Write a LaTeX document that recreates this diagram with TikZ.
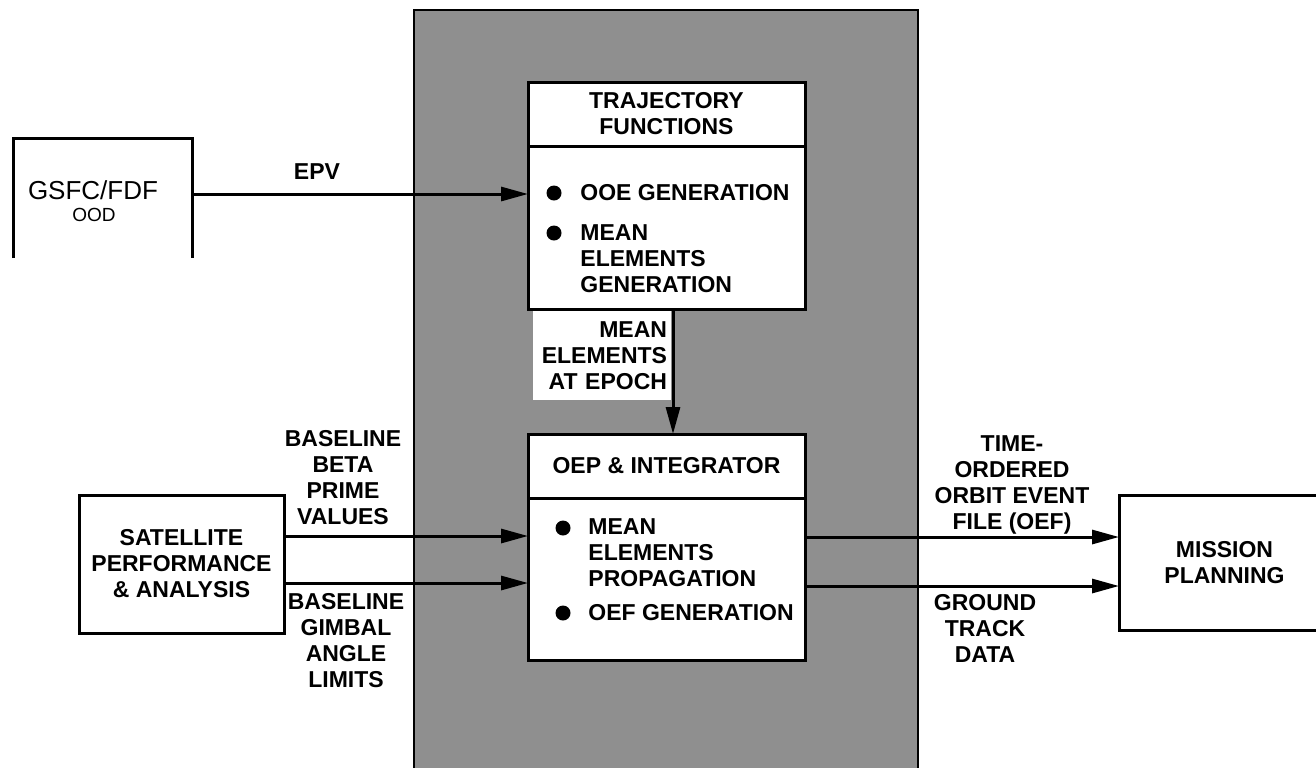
\documentclass[tikz,border=0pt]{standalone}
\usepackage{fontspec}
\setmainfont{Liberation Sans}
\usetikzlibrary{positioning, arrows.meta}

\newcommand{\labfont}{\bfseries\fontsize{11.5}{13}\selectfont}

\begin{document}
\begin{tikzpicture}[x=0.5pt, y=-0.5pt,
    box/.style={draw, line width=1.5pt, fill=white, inner sep=0pt, outer sep=0pt, align=center, font=\labfont},
    lbl/.style={font=\labfont, align=center, inner sep=0pt},
    item/.style={font=\labfont, align=left, inner sep=0pt, anchor=west},
    flow/.style={line width=1.5pt, -{Triangle[length=13.5pt, width=7pt]}}]
    \useasboundingbox (0,0) rectangle (1316,767);

    % shaded processing area
    \fill[black!44] (414,10) rectangle (918,770);
    \draw[line width=1pt] (414,770) -- (414,10) -- (918,10) -- (918,770);

    % trajectory functions
    \node[box, minimum width=138.5pt, minimum height=32pt] (trajhead) at (666.5,114) {TRAJECTORY\\FUNCTIONS};
    \node[box, minimum width=138.5pt, minimum height=81.5pt, below=0pt of trajhead] (trajbody) {};
    \fill (554,193) circle (3.75pt);
    \node[item] (ooegen) at (580,193) {OOE GENERATION};
    \fill (554,233) circle (3.75pt);
    \node[item] (meangen) at (580,259) {MEAN\\ELEMENTS\\GENERATION};

    % OEP & integrator
    \node[box, minimum width=138.5pt, minimum height=32pt] (oephead) at (666.5,466) {OEP \& INTEGRATOR};
    \node[box, minimum width=138.5pt, minimum height=81pt, below=0pt of oephead] (oepbody) {};
    \fill (563,528) circle (3.75pt);
    \node[item] (meanprop) at (588,553) {MEAN\\ELEMENTS\\PROPAGATION};
    \fill (563,613) circle (3.75pt);
    \node[item] (oefgen) at (588,613) {OEF GENERATION};

    % label on the mean elements flow
    \node[fill=white, inner ysep=0pt, inner xsep=2pt, text width=65pt, align=right,
          minimum height=44.5pt, font=\labfont] (epochlbl) at (602,355.5) {MEAN\\ELEMENTS\\AT EPOCH};

    % outside sources and users
    \node[minimum width=89.5pt, minimum height=60pt, inner sep=0pt, outer sep=0pt] (gsfc) at (102.5,198) {};
    \draw[line width=1.5pt] (gsfc.south west) -- (gsfc.north west) -- (gsfc.north east) -- (gsfc.south east);
    \node[font=\fontsize{13}{15}\selectfont, inner sep=0pt, anchor=base] (gsfcname) at (93,199) {GSFC/FDF};
    \node[font=\fontsize{9.5}{10}\selectfont, inner sep=0pt, anchor=base] (oodname) at (94,221) {OOD};

    \node[box, minimum width=102.5pt, minimum height=69pt] (sat) at (181.5,564) {SATELLITE\\PERFORMANCE\\\& ANALYSIS};
    \node[box, minimum width=105.5pt, minimum height=67.5pt] (mission) at (1224.5,562.5) {MISSION\\PLANNING};

    % flow labels
    \node[lbl] (epv) at (317,172) {EPV};
    \node[lbl] (betalbl) at (343,478) {BASELINE\\BETA\\PRIME\\VALUES};
    \node[lbl] (gimballbl) at (346,640.5) {BASELINE\\GIMBAL\\ANGLE\\LIMITS};
    \node[lbl] (oeflbl) at (1012,485) {TIME-\\ORDERED\\ORBIT EVENT\\FILE (OEF)};
    \node[lbl] (trklbl) at (985,628.5) {GROUND\\TRACK\\DATA};

    % flows
    \draw[flow] ([yshift=2pt]gsfc.east) -- ([yshift=16.75pt]trajbody.west);
    \draw[flow] ([xshift=3.25pt]trajbody.south) -- ([xshift=3.25pt]oephead.north);
    \draw[flow] ([yshift=14pt]sat.east) -- ([yshift=21.5pt]oepbody.west);
    \draw[flow] ([yshift=-9.5pt]sat.east) -- ([yshift=-2pt]oepbody.west);
    \draw[flow] ([yshift=21pt]oepbody.east) -- ([yshift=12.75pt]mission.west);
    \draw[flow] ([yshift=-3.5pt]oepbody.east) -- ([yshift=-11.75pt]mission.west);
\end{tikzpicture}
\end{document}
